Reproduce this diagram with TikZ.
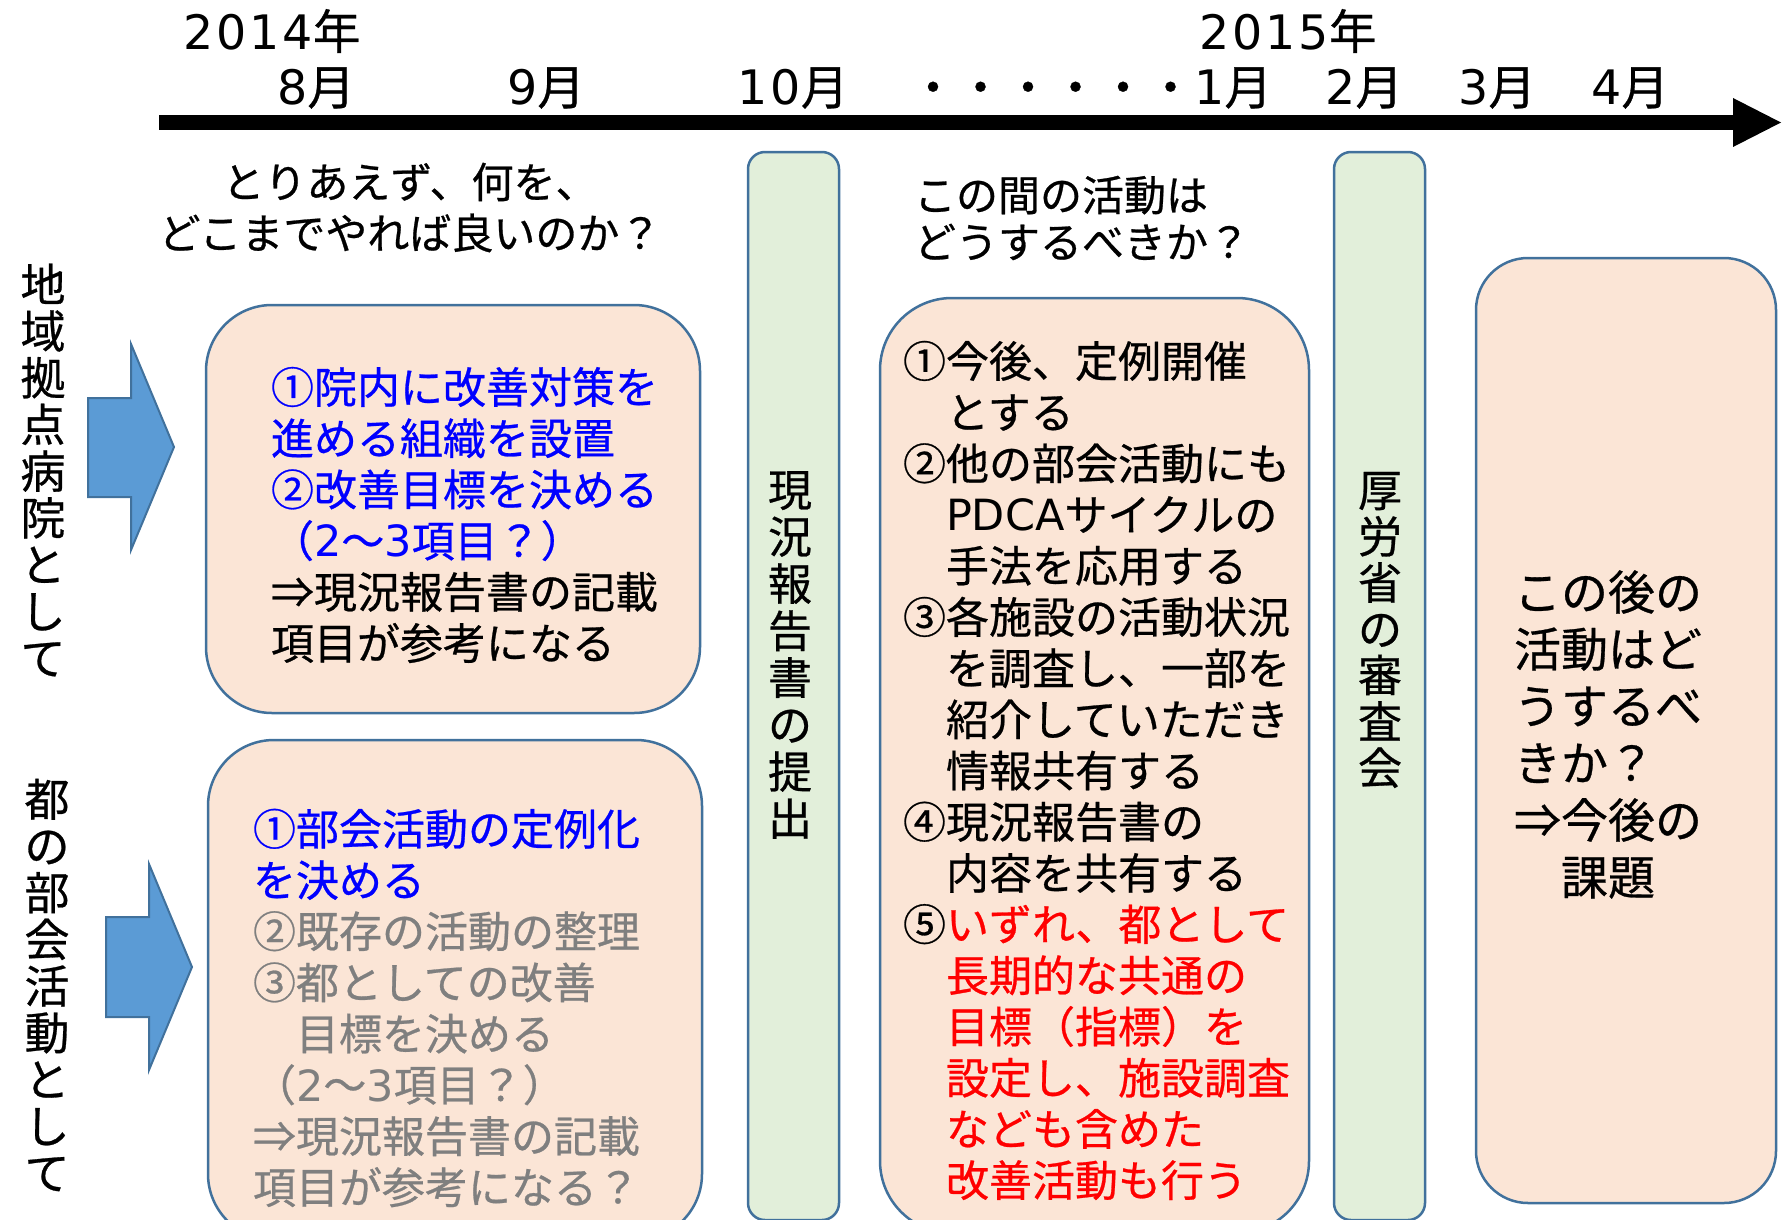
\documentclass[tikz,border=0pt]{standalone}
\usepackage{fontspec}
\setmainfont{Noto Sans CJK JP}[FakeBold=0.6]
\newfontfamily\numfont{DejaVu Sans}[LetterSpace=6]
\newfontfamily\latfont{DejaVu Sans}
\definecolor{boxfill}{HTML}{FBE5D6}
\definecolor{greenfill}{HTML}{E2EFDA}
\definecolor{edgeblue}{HTML}{41719C}
\definecolor{arrowblue}{HTML}{5B9BD5}
\definecolor{txtgray}{HTML}{7F7F7F}
\definecolor{txtblue}{HTML}{0000FF}
\definecolor{txtred}{HTML}{FF0000}
\tikzset{
  orangebox/.style={draw=edgeblue, fill=boxfill, line width=2.5pt, inner sep=0pt},
  greenbar/.style={draw=edgeblue, fill=greenfill, line width=2.5pt, rounded corners=17pt, inner sep=0pt},
  bluearrow/.style={draw=edgeblue, fill=arrowblue, line width=2pt, line join=miter},
  txt/.style={inner sep=0pt, outer sep=0pt},
  tlabel/.style={txt, font=\fontsize{47.5}{50}\selectfont},
  boxtext/.style={txt, anchor=west, align=left, font=\fontsize{43}{51.2}\selectfont},
  vtext/.style={txt, align=center, font=\fontsize{45}{46.7}\selectfont},
}
\begin{document}
\begin{tikzpicture}[x=1pt,y=-1pt]
\useasboundingbox (0,0) rectangle (1785,1220);
\clip (0,0) rectangle (1785,1220);

% timeline
\coordinate (tlstart) at (159,122.5);
\coordinate (tlend) at (1735,122.5);
\draw[line width=15pt] (tlstart) -- (tlend);
\fill (1733,98) -- (1781,122.5) -- (1733,147) -- cycle;

\node[tlabel] (y2014) at (272,31) {{\numfont 2014}年};
\node[tlabel] (m8) at (316,88) {{\numfont 8}月};
\node[tlabel] (m9) at (546,88) {{\numfont 9}月};
\node[tlabel] (m10) at (793,88) {{\numfont 10}月};
\node[tlabel, anchor=east] (m1) at (1272,88) {・・・・・・{\numfont 1}月};
\node[tlabel] (y2015) at (1288,31) {{\numfont 2015}年};
\node[tlabel] (m2) at (1364,88) {{\numfont 2}月};
\node[tlabel] (m3) at (1497,88) {{\numfont 3}月};
\node[tlabel] (m4) at (1630,88) {{\numfont 4}月};

% questions
\node[txt, align=center, font=\fontsize{42}{51}\selectfont] (q1) at (410,207.5)
  {とりあえず、何を、\\どこまでやれば良いのか？};
\node[txt, anchor=west, align=left, font=\fontsize{42}{47}\selectfont] (q2) at (914,218)
  {この間の活動は\\どうするべきか？};

% side labels
\node[vtext] (lab1) at (43,470) {地\\域\\拠\\点\\病\\院\\と\\し\\て};
\node[vtext] (lab2) at (47,985) {都\\の\\部\\会\\活\\動\\と\\し\\て};

% blue arrows
\draw[bluearrow] (88,398) -- (131,398) -- (131,344) -- (174,447) -- (131,550) -- (131,497) -- (88,497) -- cycle;
\draw[bluearrow] (106,917) -- (149,917) -- (149,864) -- (192,967) -- (149,1070) -- (149,1017) -- (106,1017) -- cycle;

% boxes
\node[orangebox, rounded corners=66pt, minimum width=494pt, minimum height=408pt] (box1) at (453,509) {};
\node[orangebox, rounded corners=66pt, minimum width=494pt, minimum height=500pt] (box2) at (455,990) {};
\node[orangebox, rounded corners=72pt, minimum width=429pt, minimum height=935pt] (box3) at (1094.5,765.5) {};
\node[orangebox, rounded corners=52pt, minimum width=300pt, minimum height=945pt] (box4) at (1626,730.5) {};
\node[greenbar, minimum width=91pt, minimum height=1068pt] (bar1) at (793.5,686) {};
\node[greenbar, minimum width=91pt, minimum height=1068pt] (bar2) at (1379.5,686) {};

% bar texts
\node[vtext, font=\fontsize{44}{47}\selectfont] (bart1) at (790,655) {現\\況\\報\\告\\書\\の\\提\\出};
\node[vtext, font=\fontsize{44}{46.3}\selectfont] (bart2) at (1380,630) {厚\\労\\省\\の\\審\\査\\会};

% box texts
\node[boxtext] (t1) at (271,515) {%
{\color{txtblue}①院内に改善対策を}\\
{\color{txtblue}進める組織を設置}\\
{\color{txtblue}②改善目標を決める}\\
{\color{txtblue}（{\numfont 2}～{\numfont 3}項目？）}\\
⇒現況報告書の記載\\
項目が参考になる};

\node[boxtext] (t2) at (253,1008) {%
{\color{txtblue}①部会活動の定例化}\\
{\color{txtblue}を決める}\\
{\color{txtgray}②既存の活動の整理}\\
{\color{txtgray}③都としての改善}\\
{\color{txtgray}　目標を決める}\\
{\color{txtgray}（{\numfont 2}～{\numfont 3}項目？）}\\
{\color{txtgray}⇒現況報告書の記載}\\
{\color{txtgray}項目が参考になる？}};

\node[boxtext] (t3) at (903,770.5) {%
①今後、定例開催\\
　とする\\
②他の部会活動にも\\
　{\latfont PDCA}サイクルの\\
　手法を応用する\\
③各施設の活動状況\\
　を調査し、一部を\\
　紹介していただき\\
　情報共有する\\
④現況報告書の\\
　内容を共有する\\
⑤{\color{txtred}いずれ、都として}\\
{\color{txtred}　長期的な共通の}\\
{\color{txtred}　目標（指標）を}\\
{\color{txtred}　設定し、施設調査}\\
{\color{txtred}　なども含めた}\\
{\color{txtred}　改善活動も行う}};

\node[txt, align=center, font=\fontsize{47}{57}\selectfont] (t4) at (1608,734.5) {%
この後の\\活動はど\\うするべ\\きか？　\\⇒今後の\\課題};
\end{tikzpicture}
\end{document}
